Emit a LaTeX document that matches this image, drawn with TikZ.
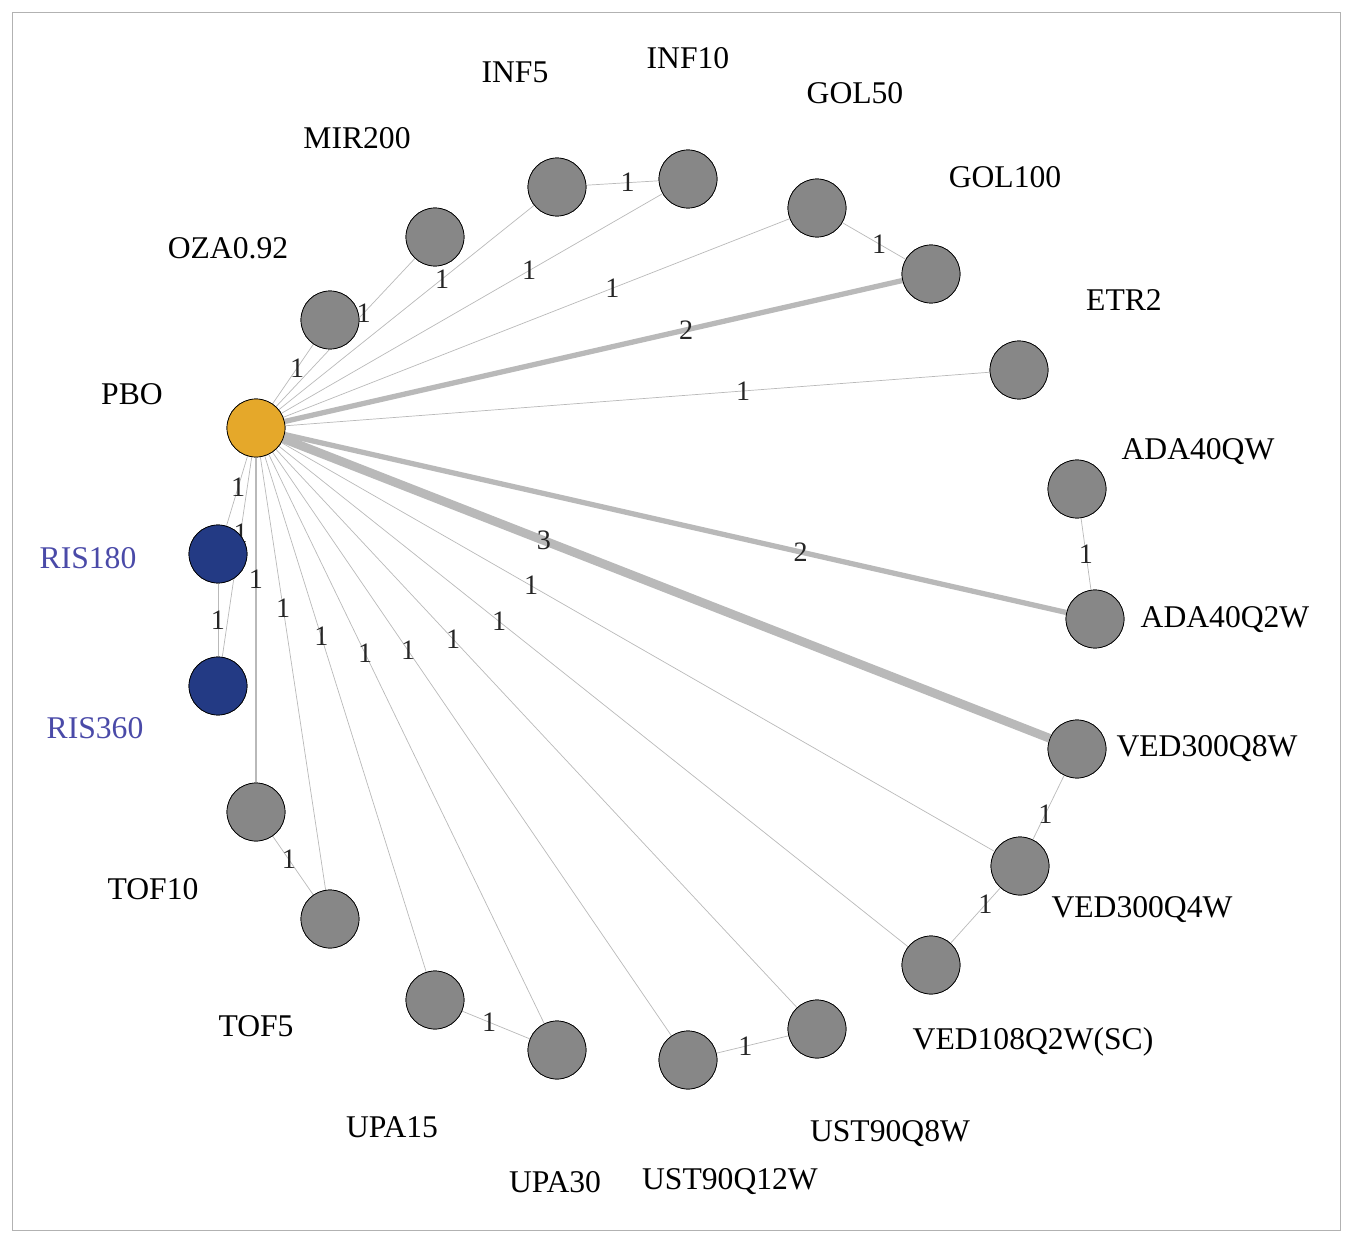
\documentclass[tikz,border=0pt]{standalone}
\usepackage{fontspec}
\setmainfont{Liberation Serif}
\usetikzlibrary{positioning}
\definecolor{vgray}{HTML}{878787}
\definecolor{vorange}{HTML}{E5A82A}
\definecolor{vblue}{HTML}{233A84}
\definecolor{lblue}{HTML}{4A4AA8}
\tikzset{
    vert/.style={
           circle,
           draw=black, thin,
           minimum size=1.16cm,
           inner sep=0pt,
           fill=vgray,
           },
    tag/.style={
           font=\fontsize{18}{18}\selectfont,
           inner sep=1pt,},
    w1/.style={draw=gray!55, line width=0.4pt},
    w2/.style={draw=gray!55, line width=3pt},
    w3/.style={draw=gray!55, line width=5pt},
    num/.style={font=\fontsize{16}{16}\selectfont, inner sep=0pt, text=black!85},
}
\begin{document}
\begin{tikzpicture}[x=0.02cm,y=-0.02cm]
\useasboundingbox (0,0) rectangle (1350,1247);
\draw[gray!60] (12,12) rectangle (1340,1230);
% treatment nodes
\foreach \nm/\x/\y in {OZA/330/320, MIR/435/237, INFa/557/187, INFb/688/179,
    GOLa/817/208, GOLb/931/274, ETR/1019/370, ADAa/1077/489, ADAb/1095/619,
    VEDa/1077/749, VEDb/1020/866, VEDc/931/965, USTa/817/1029, USTb/688/1060,
    UPAb/557/1050, UPAa/435/1000, TOFb/330/919, TOFa/256/812}
  \node[vert] (\nm) at (\x,\y) {};
\node[vert, fill=vorange] (PBO) at (256,428) {};
\node[vert, fill=vblue] (RISa) at (218,554) {};
\node[vert, fill=vblue] (RISb) at (218,686) {};
% names
\foreach \nm/\x/\y/\txt in {OZA/228/248/OZA0.92, MIR/357/138/MIR200, INFa/515/72/INF5,
    INFb/688/58/INF10, GOLa/855/93/GOL50, GOLb/1005/177/GOL100, ETR/1124/300/ETR2,
    ADAa/1198/452/ADA40QW, ADAb/1225/620/ADA40Q2W, VEDa/1207/749/VED300Q8W,
    VEDb/1142/910/VED300Q4W, VEDc/1033/1042/VED108Q2W(SC), USTa/890/1134/UST90Q8W,
    USTb/730/1182/UST90Q12W, UPAb/555/1182/UPA30, UPAa/392/1127/UPA15,
    TOFb/256/1026/TOF5, TOFa/153/889/TOF10, PBO/132/394/PBO}
  \node[tag] (t\nm) at (\x,\y) {\txt};
\node[tag, text=lblue] (tRISa) at (88,558) {RIS180};
\node[tag, text=lblue] (tRISb) at (95,728) {RIS360};
% edges from placebo
\begin{scope}[on background layer/.style={}]
\foreach \nm/\w/\p/\n in {OZA/w1/0.6/1, MIR/w1/0.63/1, INFa/w1/0.64/1, INFb/w1/0.65/1,
    GOLa/w1/0.65/1, GOLb/w2/0.65/2, ETR/w1/0.65/1, ADAb/w2/0.66/2, VEDa/w3/0.34/3,
    VEDb/w1/0.35/1, VEDc/w1/0.35/1, USTa/w1/0.34/1, USTb/w1/0.34/1, UPAb/w1/0.35/1,
    UPAa/w1/0.35/1, TOFb/w1/0.35/1, RISa/w1/0.45/1, RISb/w1/0.38/1}
  \path[\w] (PBO) -- node[num, pos=\p] {\n} (\nm);
\path[w1, line width=1.2pt] (PBO) -- node[num, pos=0.375] {1} (TOFa);
% other comparisons
\path[w1] (INFa) -- node[num, pos=0.57] {1} (INFb);
\path[w1] (GOLa) -- node[num, pos=0.58] {1} (GOLb);
\path[w1] (ADAa) -- node[num] {1} (ADAb);
\path[w1] (VEDa) -- node[num, pos=0.6] {1} (VEDb);
\path[w1] (VEDb) -- node[num, pos=0.3] {1} (VEDc);
\path[w1] (USTa) -- node[num, pos=0.6] {1} (USTb);
\path[w1] (UPAa) -- node[num, pos=0.4] {1} (UPAb);
\path[w1] (TOFa) -- node[num, pos=0.4] {1} (TOFb);
\path[w1] (RISa) -- node[num] {1} (RISb);
\end{scope}
% redraw vertices on top
\foreach \nm in {OZA, MIR, INFa, INFb, GOLa, GOLb, ETR, ADAa, ADAb, VEDa, VEDb,
    VEDc, USTa, USTb, UPAb, UPAa, TOFb, TOFa}
  \node[vert] at (\nm) {};
\node[vert, fill=vorange] at (PBO) {};
\node[vert, fill=vblue] at (RISa) {};
\node[vert, fill=vblue] at (RISb) {};
\end{tikzpicture}
\end{document}
